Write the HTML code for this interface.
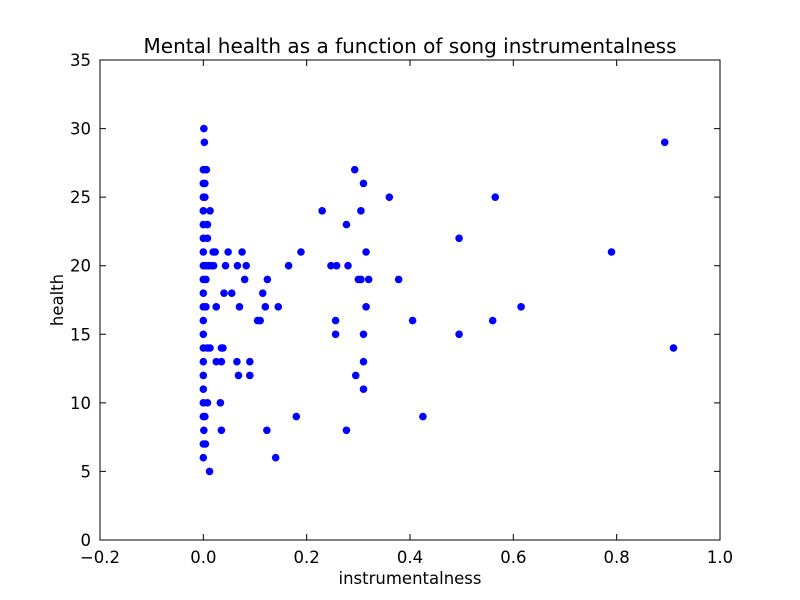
<!DOCTYPE html>
<html><head><meta charset="utf-8"><style>body{margin:0;background:#fff}svg{display:block;font-family:"DejaVu Sans","Liberation Sans",sans-serif}</style></head>
<body>
<svg id="chart" width="800" height="600" viewBox="0 0 800 600"></svg>
<script>
const xVals=[0.001,0.002,0,0.006,0,0.003,0,0.003,0,0.013,0,0.008,0,0.008,
0,0.019,0.023,0.048,0.075,0.189,0.315,0.79,
0,0.005,0.01,0.015,0.02,0.043,0.066,0.083,0.165,0.247,0.258,0.28,
0,0.005,0.08,0.124,0.3,0.305,0.32,0.378,
0,0.04,0.055,0.115,
0,0.005,0.025,0.07,0.12,0.145,0.315,0.615,
0,0.105,0.11,0.256,0.405,0.56,
0,0.256,0.31,0.495,
0,0.008,0.013,0.035,0.038,0.91,
0,0.025,0.035,0.065,0.09,0.31,
0,0.068,0.09,0.295,
0,0.31,
0,0.008,0.033,
0,0.003,0.18,0.425,
0.001,0.035,0.123,0.277,
0,0.004,
0,0.14,
0.012,
0.893,0.293,0.31,0.36,0.565,0.23,0.305,0.277,0.495];
const yVals=[30,29,27,27,26,26,25,25,24,24,23,23,22,22,
21,21,21,21,21,21,21,21,
20,20,20,20,20,20,20,20,20,20,20,20,
19,19,19,19,19,19,19,19,
18,18,18,18,
17,17,17,17,17,17,17,17,
16,16,16,16,16,16,
15,15,15,15,
14,14,14,14,14,14,
13,13,13,13,13,13,
12,12,12,12,
11,11,
10,10,10,
9,9,9,9,
8,8,8,8,
7,7,
6,6,
5,
29,27,26,25,25,24,24,23,22];
const xTicks=[-0.2,0,0.2,0.4,0.6,0.8,1.0];
const xTickLabels=["\u22120.2","0.0","0.2","0.4","0.6","0.8","1.0"];
const yTicks=[0,5,10,15,20,25,30,35];
const L=100,R=720,T=60,B=540,X0=-0.2,X1=1.0,Y0=0,Y1=35;
const sx=v=>L+(v-X0)/(X1-X0)*(R-L);
const sy=v=>B-(v-Y0)/(Y1-Y0)*(B-T);
const svg=document.getElementById('chart');
const NS='http://www.w3.org/2000/svg';
function mk(tag,attrs,parent){const e=document.createElementNS(NS,tag);for(const k in attrs)e.setAttribute(k,attrs[k]);(parent||svg).appendChild(e);return e;}
const frame=mk('rect',{x:L,y:T,width:R-L,height:B-T,fill:'none',stroke:'#000','stroke-width':1});


xTicks.forEach((t,i)=>{const x=sx(t);
 const tk=mk('path',{d:`M${x},${B}v-6M${x},${T}v6`,stroke:'#000'});
 
 
 const lb=mk('text',{x:x,y:B+23,'text-anchor':'middle','font-size':16.5});lb.textContent=xTickLabels[i];
 
 });
yTicks.forEach(t=>{const y=sy(t);
 const tk=mk('path',{d:`M${L},${y}h6M${R},${y}h-6`,stroke:'#000'});
 
 
 const lb=mk('text',{x:L-9,y:y+6,'text-anchor':'end','font-size':16.5});lb.textContent=t;
 
 });
xVals.forEach((v,i)=>{const c=mk('circle',{cx:sx(v),cy:sy(yVals[i]),r:3.8,fill:'#0000ff'});
 
 });
const title=mk('text',{x:410,y:53,'text-anchor':'middle','font-size':20});title.textContent='Mental health as a function of song instrumentalness';


const xt=mk('text',{x:410,y:584,'text-anchor':'middle','font-size':16.5});xt.textContent='instrumentalness';


const yt=mk('text',{x:63,y:300,'text-anchor':'middle','font-size':16.5,transform:'rotate(-90 63 300)'});yt.textContent='health';


</script>
</body></html>
